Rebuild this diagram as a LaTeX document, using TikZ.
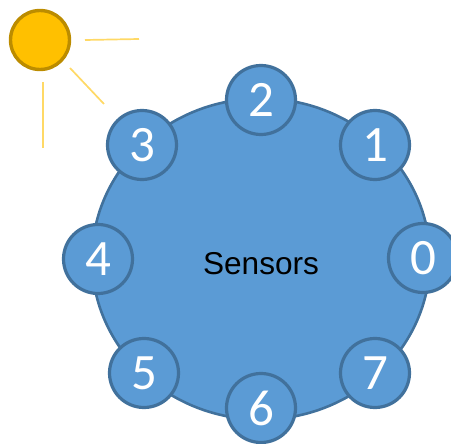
\documentclass[tikz,border=0pt]{standalone}
\usepackage{fontspec}
\usetikzlibrary{shapes.geometric}
\setmainfont{Carlito}
\newfontfamily\arialfont{Liberation Sans}
\definecolor{bluefill}{HTML}{5B9BD5}
\definecolor{blueline}{HTML}{41719C}
\definecolor{sunfill}{HTML}{FFC000}
\definecolor{sunline}{HTML}{BC8C00}
\definecolor{rayline}{HTML}{FFD966}
\tikzset{
  bigdisc/.style={ellipse,draw=blueline,fill=bluefill,line width=2.6pt,minimum width=338pt,minimum height=321pt,inner sep=0pt},
  sensor/.style={circle,draw=blueline,fill=bluefill,line width=3.2pt,minimum size=69pt,inner sep=0pt,text=white,font=\fontsize{51}{51}\selectfont},
  sun/.style={circle,draw=sunline,fill=sunfill,line width=3.4pt,minimum size=59pt,inner sep=0pt},
  ray/.style={draw=rayline,line width=1.7pt}
}
\begin{document}
\begin{tikzpicture}[x=1pt,y=-1pt]
\useasboundingbox (0,0) rectangle (451,444);
\clip (0,0) rectangle (451,444);
\node[bigdisc] (disc) at (261,259) {};
\node[font=\arialfont\fontsize{31.6}{32}\selectfont,text=black] (label) at (261,263.5) {Sensors};
\node[sensor] (s0) at (423,258) {0};
\node[sensor] (s1) at (375,145) {1};
\node[sensor] (s2) at (261,100) {2};
\node[sensor] (s3) at (142,145) {3};
\node[sensor] (s4) at (98,259) {4};
\node[sensor] (s5) at (144,373) {5};
\node[sensor] (s6) at (261,408) {6};
\node[sensor] (s7) at (375,373) {7};
\node[sun] (sun) at (40,40) {};
\coordinate (r1a) at (85,40);
\coordinate (r1b) at (139,39);
\coordinate (r2a) at (70,68);
\coordinate (r2b) at (104,104);
\coordinate (r3a) at (43,82);
\coordinate (r3b) at (43,148);
\draw[ray] (r1a) -- (r1b);
\draw[ray] (r2a) -- (r2b);
\draw[ray] (r3a) -- (r3b);
\end{tikzpicture}
\end{document}
